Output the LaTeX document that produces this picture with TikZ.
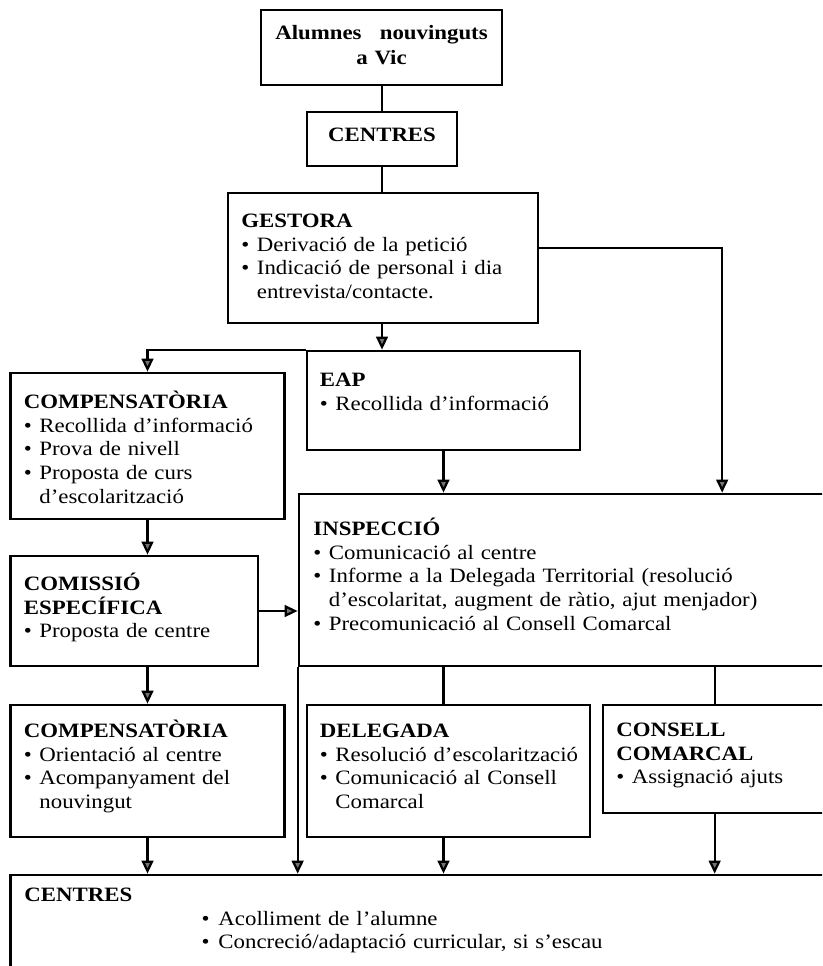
\documentclass[tikz,border=0pt]{standalone}
\usepackage{fontspec}
\setmainfont{Liberation Serif}[FakeStretch=1.12]
\usetikzlibrary{arrows.meta,fit}

\newcommand{\bul}[1]{\par\hangindent=11pt\hangafter=1\noindent\makebox[11pt][l]{\textbullet}#1\par}
\newcommand{\bulin}[1]{\par\noindent\hspace*{126pt}\makebox[12pt][l]{\textbullet}#1\par}

\begin{document}
\begin{tikzpicture}[x=0.025cm, y=-0.025cm,
  box/.style={draw, line width=1.9pt, inner sep=0pt},
  txt/.style={anchor=base west, inner sep=0pt, text width=15cm, align=left,
    font=\fontsize{14.5pt}{16.8pt}\selectfont},
  ttl/.style={anchor=base, inner sep=0pt, text width=7cm, align=center,
    font=\bfseries\fontsize{14.5pt}{17.4pt}\selectfont},
  flow/.style={line width=1.6pt, -{Triangle[width=8.3pt,length=9.2pt,fill=black!55]}},
  link/.style={line width=1.6pt}]

\useasboundingbox (0,0) rectangle (822,966);
\clip (0,0) rectangle (822,966);

% Caixes
\node[box, fit={(261,10) (502,85)}] (alum) {};
\node[box, fit={(307,112) (457,166)}] (cent) {};
\node[box, fit={(228,193) (538,323)}] (gest) {};
\node[box, fit={(307,351) (580,450)}] (eap) {};
\node[box, fit={(10.5,373) (284.5,519)}] (comp) {};
\node[box, fit={(299,494) (840,666)}] (insp) {};
\node[box, fit={(10.5,556) (258,666)}] (comis) {};
\node[box, fit={(10.5,705) (284.5,837)}] (orie) {};
\node[box, fit={(307,705) (590,837)}] (deleg) {};
\node[box, fit={(603,705) (840,813)}] (cons) {};
\node[box, fit={(10.5,875) (840,990)}] (acoll) {};

% Textos
\node[ttl] (alumT) at ([shift={(0,31)}]alum.north) {Alumnes\hspace{13pt}nouvinguts\\a Vic};
\node[ttl] (centT) at ([shift={(0,31)}]cent.north) {CENTRES};
\node[txt] (gestT) at ([shift={(14.5,36)}]gest.north west)
  {\textbf{GESTORA}\bul{Derivació de la petició}\bul{Indicació de personal i dia\newline entrevista/contacte.}};
\node[txt] (eapT) at ([shift={(14,37)}]eap.north west)
  {\textbf{EAP}\bul{Recollida d’informació}};
\node[txt] (compT) at ([shift={(14.5,37)}]comp.north west)
  {\textbf{COMPENSATÒRIA}\bul{Recollida d’informació}\bul{Prova de nivell}\bul{Proposta de curs\newline d’escolarització}};
\node[txt] (inspT) at ([shift={(15.5,43)}]insp.north west)
  {\textbf{INSPECCIÓ}\bul{Comunicació al centre}\bul{Informe a la Delegada Territorial (resolució\newline d’escolaritat, augment de ràtio, ajut menjador)}\bul{Precomunicació al Consell Comarcal}};
\node[txt] (comisT) at ([shift={(14.5,36)}]comis.north west)
  {\textbf{COMISSIÓ\\ESPECÍFICA}\bul{Proposta de centre}};
\node[txt] (orieT) at ([shift={(14.5,34)}]orie.north west)
  {\textbf{COMPENSATÒRIA}\bul{Orientació al centre}\bul{Acompanyament del\newline nouvingut}};
\node[txt] (delegT) at ([shift={(14,34)}]deleg.north west)
  {\textbf{DELEGADA}\bul{Resolució d’escolarització}\bul{Comunicació al Consell\newline Comarcal}};
\node[txt] (consT) at ([shift={(14.5,33)}]cons.north west)
  {\textbf{CONSELL\\COMARCAL}\bul{Assignació ajuts}};
\node[txt] (acollT) at ([shift={(15,28)}]acoll.north west)
  {\textbf{CENTRES}\bulin{Acolliment de l’alumne}\bulin{Concreció/adaptació curricular, si s’escau}};

% Fletxes
\coordinate (consx) at ([shift={(113,0)}]cons.north west);
\draw[link] (alum.south -| cent.north) -- (cent.north);
\draw[link] (cent.south) -- (cent.south |- gest.north);
\draw[flow] (cent.south |- gest.south) -- (cent.south |- eap.north);
\draw[flow] (eap.north west) -| (comp.north);
\draw[flow] ([shift={(0,-10)}]gest.east) -| ([shift={(424.5,0)}]insp.north west);
\draw[flow] (eap.south) -- (eap.south |- insp.north);
\draw[flow] (comp.south) -- (comp.south |- comis.north);
\draw[flow] (comis.east) -- (comis.east -| insp.west);
\draw[flow] (comp.south |- comis.south) -- (orie.north);
\draw[link] (eap.south |- insp.south) -- (eap.south |- deleg.north);
\draw[link] (consx |- insp.south) -- (consx);
\draw[flow] (insp.south west) -- (insp.south west |- acoll.north);
\draw[flow] (orie.south) -- (orie.south |- acoll.north);
\draw[flow] (eap.south |- deleg.south) -- (eap.south |- acoll.north);
\draw[flow] (consx |- cons.south) -- (consx |- acoll.north);
\end{tikzpicture}
\end{document}
